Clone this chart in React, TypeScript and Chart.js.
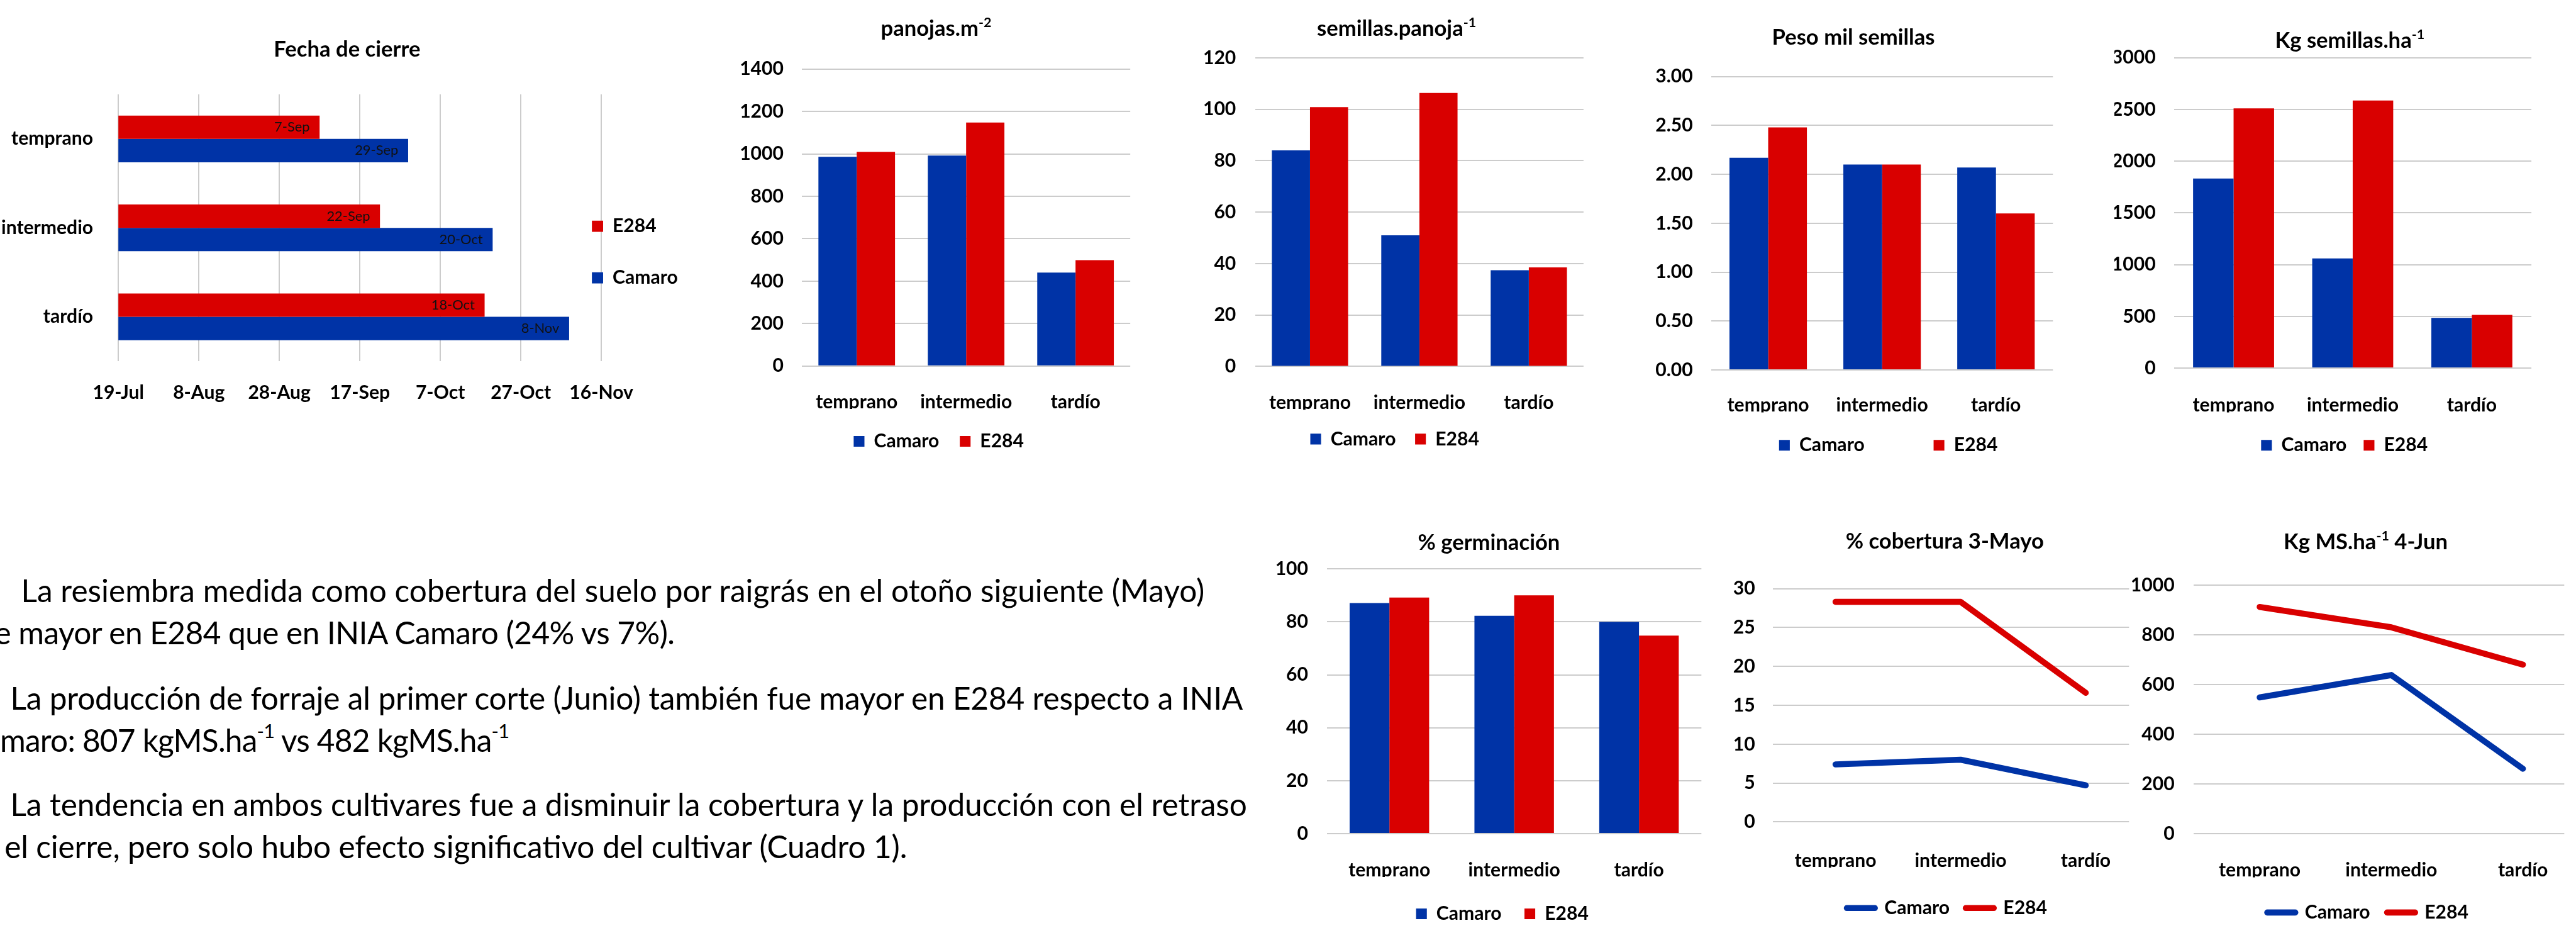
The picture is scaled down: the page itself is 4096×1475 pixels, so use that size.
import React, { useEffect, useMemo, useRef } from 'react';
import { Chart, registerables } from 'chart.js';

Chart.register(...registerables);

const S = 0.713;
const FAMILY = 'Lato, "Open Sans", "DejaVu Sans", sans-serif';
const BLUE = '#0033A6';
const RED = '#D90000';
const GRID = '#cccccc';
const INK = '#000000';

// ---------------- data ----------------
const categories = ['temprano', 'intermedio', 'tardío'];

const cierreE284 = ['2018-09-07', '2018-09-22', '2018-10-18'];
const cierreCamaro = ['2018-09-29', '2018-10-20', '2018-11-08'];
const cierreAxisStart = '2018-07-19';
const cierreAxisEnd = '2018-11-16';
const cierreTickStepDays = 20;

const panojasCamaro = [986, 992, 440];
const panojasE284 = [1009, 1148, 499];

const semillasPanojaCamaro = [84, 51, 37.4];
const semillasPanojaE284 = [100.8, 106.3, 38.5];

const pesoMilCamaro = [2.17, 2.1, 2.07];
const pesoMilE284 = [2.48, 2.1, 1.6];

const kgSemillasCamaro = [1832, 1060, 485];
const kgSemillasE284 = [2511, 2587, 514];

const germinacionCamaro = [87.1, 82.3, 80.0];
const germinacionE284 = [89.2, 90.0, 74.8];

const coberturaCamaro = [7.4, 8.0, 4.7];
const coberturaE284 = [28.3, 28.3, 16.6];

const kgMSCamaro = [548, 638, 261];
const kgMSE284 = [912, 830, 680];

// text lines (odd parts are superscripts)
const paragraphLines = [
  ['La resiembra medida como cobertura del suelo por raigrás en el otoño siguiente (Mayo)'],
  ['e mayor en E284 que en INIA Camaro (24% vs 7%).'],
  ['La producción de forraje al primer corte (Junio) también fue mayor en E284 respecto a INIA'],
  ['maro: 807 kgMS.ha', '-1', ' vs 482 kgMS.ha', '-1'],
  ['La tendencia en ambos cultivares fue a disminuir la cobertura y la producción con el retraso'],
  ['el cierre, pero solo hubo efecto significativo del cultivar (Cuadro 1).'],
];

// layout of the text lines in reference pixels
const PARA_LAYOUT = [
  { x: 47, base: 1342, end: 2686 },
  { x: -12, base: 1436, end: 1505 },
  { x: 23, base: 1582, end: 2772 },
  { x: 0, base: 1676, end: 1136 },
  { x: 23, base: 1819, end: 2781 },
  { x: 10, base: 1913, end: 2023 },
];

// ---------------- helpers ----------------
const MONTHS = ['Jan', 'Feb', 'Mar', 'Apr', 'May', 'Jun', 'Jul', 'Aug', 'Sep', 'Oct', 'Nov', 'Dec'];
const toDay = (s: string) => Math.round(Date.parse(s + 'T00:00:00Z') / 864e5);
const fmtDay = (d: number) => {
  const dt = new Date(d * 864e5);
  return `${dt.getUTCDate()}-${MONTHS[dt.getUTCMonth()]}`;
};

function fitSize(text: string, weight: string, refWidth: number) {
  const c = document.createElement('canvas').getContext('2d') as CanvasRenderingContext2D;
  c.font = `${weight} 100px ${FAMILY}`;
  return (100 * refWidth * S) / c.measureText(text).width;
}

const decorPlugin = {
  id: 'decor',
  afterLayout(chart: any, _a: any, opts: any) {
    const lg = chart.legend;
    const lp = opts && opts.legend;
    if (!lg || !lp) return;
    const w = lg.right - lg.left;
    const h = lg.bottom - lg.top;
    if (lp.mode === 'h') {
      const nl = lp.cx - w / 2;
      lg.left = nl;
      lg.right = nl + w;
      const nt = lp.cy - lp.pad - lp.f / 2;
      lg.top = nt;
      lg.bottom = nt + h;
    } else {
      const nl = lp.boxLeft - lp.pad;
      lg.left = nl;
      lg.right = nl + w + 250;
      const nt = lp.mid - h / 2;
      lg.top = nt;
      lg.bottom = nt + h;
    }
  },
  afterDraw(chart: any, _a: any, opts: any) {
    const t = opts && opts.title;
    if (!t) return;
    const ctx = chart.ctx;
    ctx.save();
    const main = `bold ${t.f}px ${FAMILY}`;
    const sup = `bold ${t.f * 0.62}px ${FAMILY}`;
    let total = 0;
    for (const p of t.parts) {
      ctx.font = p.sup ? sup : main;
      total += ctx.measureText(p.t).width;
    }
    let x = t.cx - total / 2;
    ctx.fillStyle = INK;
    ctx.textAlign = 'left';
    ctx.textBaseline = 'alphabetic';
    for (const p of t.parts) {
      ctx.font = p.sup ? sup : main;
      ctx.fillText(p.t, x, p.sup ? t.by - t.f * 0.4 : t.by);
      x += ctx.measureText(p.t).width;
    }
    ctx.restore();
  },
};

const dateLabelPlugin = {
  id: 'dateLabels',
  afterDatasetsDraw(chart: any, _a: any, opts: any) {
    const ctx = chart.ctx;
    ctx.save();
    ctx.font = `normal ${opts.font}px ${FAMILY}`;
    ctx.fillStyle = '#111111';
    ctx.textAlign = 'right';
    ctx.textBaseline = 'middle';
    chart.data.datasets.forEach((ds: any, di: number) => {
      chart.getDatasetMeta(di).data.forEach((el: any, i: number) => {
        ctx.fillText(fmtDay(ds.data[i]), el.x - opts.inset, el.y);
      });
    });
    ctx.restore();
  },
};

function frame(geo: any, fonts: any) {
  const ox = geo.box[0] * S;
  const oy = geo.box[1] * S;
  const L = geo.plot[0] * S - ox;
  const T = geo.plot[1] * S - oy;
  const R = geo.plot[2] * S - ox;
  const B = geo.plot[3] * S - oy;
  const f = fonts.label;
  const yPad = (geo.plot[0] - geo.yLabelRight) * S;
  const xCY = geo.xTickCY * S - oy;
  const xPad = xCY - B - f / 2;
  const xAxisH = xPad + f + 4;
  return {
    ox, oy, L, T, R, B, f, yPad, xPad, xAxisH,
    W: Math.round((geo.box[2] - geo.box[0]) * S),
    H0: (geo.box[3] - geo.box[1]) * S,
    labelFont: { family: FAMILY, size: f, weight: 'bold', lineHeight: 1 },
    title: { parts: geo.title.parts, cx: geo.title.cx * S - ox, by: geo.title.by * S - oy, f: fonts.title },
  };
}

function cierreSpec(fonts: any) {
  const geo = {
    box: [0, 30, 1560, 960],
    plot: [264, 211, 1341, 806],
    yLabelRight: 219,
    xTickCY: 876,
    title: { parts: [{ t: 'Fecha de cierre' }], cx: 774, by: 127 },
  };
  const fr = frame(geo, fonts);
  const legendW = 150;
  const p = 115 * S - fr.f;
  const H = Math.ceil(Math.max(fr.H0, fr.B + fr.xAxisH));
  const min = toDay(cierreAxisStart);
  const max = toDay(cierreAxisEnd);
  const cfg = {
    type: 'bar',
    data: {
      labels: categories,
      datasets: [
        { label: 'E284', data: cierreE284.map(toDay), backgroundColor: RED, categoryPercentage: 0.525, barPercentage: 1, borderWidth: 0 },
        { label: 'Camaro', data: cierreCamaro.map(toDay), backgroundColor: BLUE, categoryPercentage: 0.525, barPercentage: 1, borderWidth: 0 },
      ],
    },
    options: {
      indexAxis: 'y',
      responsive: false,
      animation: false,
      devicePixelRatio: 1,
      layout: { padding: { left: 0, top: fr.T, right: fr.W - fr.R - legendW, bottom: H - fr.B - fr.xAxisH } },
      plugins: {
        legend: {
          position: 'right',
          maxWidth: legendW,
          labels: { boxWidth: 25 * S, boxHeight: 25 * S, padding: p, color: INK, font: fr.labelFont },
        },
        title: { display: false },
        tooltip: { enabled: false },
        decor: { title: fr.title, legend: { mode: 'v', boxLeft: 1320 * S - fr.ox, mid: 562.5 * S - fr.oy, pad: p } },
        dateLabels: { font: fonts.data, inset: 22 * S },
      },
      scales: {
        x: {
          type: 'linear',
          min,
          max,
          grid: { color: GRID, lineWidth: 2, drawTicks: false },
          border: { display: false },
          ticks: {
            stepSize: cierreTickStepDays,
            color: INK,
            font: fr.labelFont,
            padding: fr.xPad,
            maxRotation: 0,
            autoSkip: false,
            callback: (v: any) => fmtDay(Number(v)),
          },
          afterFit: (s: any) => { s.height = fr.xAxisH; },
        },
        y: {
          grid: { display: false },
          border: { display: false },
          ticks: { color: INK, font: fr.labelFont, padding: fr.yPad },
          afterFit: (s: any) => { s.width = fr.L; },
        },
      },
    },
    plugins: [decorPlugin, dateLabelPlugin],
  };
  return { cfg, left: fr.ox, top: fr.oy, w: fr.W, h: H };
}

function verticalSpec(kind: string, geo: any, a: number[], b: number[], yMax: number, yStep: number, decimals: number, fonts: any, catPct: number, xMax: number) {
  const fr = frame(geo, fonts);
  const p = geo.legend.gap * S;
  const legendH = fr.f + p + 10;
  const H = Math.ceil(Math.max(fr.H0, fr.B + fr.xAxisH + legendH));
  const padBottom = H - (fr.B + fr.xAxisH + legendH);
  const isLine = kind === 'line';
  const LW = 9.6;
  const mk = (label: string, vals: number[], color: string) =>
    isLine
      ? {
          label,
          data: vals.map((y, i) => ({ x: i, y })),
          borderColor: color,
          backgroundColor: color,
          borderWidth: LW,
          borderCapStyle: 'round',
          borderJoinStyle: 'round',
          pointRadius: 0,
          pointHoverRadius: 0,
          pointBorderWidth: LW,
          pointStyle: 'line',
          tension: 0,
          fill: false,
        }
      : { label, data: vals, backgroundColor: color, categoryPercentage: catPct, barPercentage: 1, borderWidth: 0 };
  const tickBase = { color: INK, font: fr.labelFont, padding: fr.xPad, maxRotation: 0, autoSkip: false };
  const xScale = isLine
    ? {
        type: 'linear',
        min: -0.5,
        max: xMax,
        afterBuildTicks: (s: any) => { s.ticks = [0, 1, 2].map((v) => ({ value: v })); },
        grid: { display: false },
        border: { display: false },
        ticks: { ...tickBase, callback: (v: any) => categories[Number(v)] ?? '' },
        afterFit: (s: any) => { s.height = fr.xAxisH; },
      }
    : {
        type: 'category',
        grid: { display: false },
        border: { display: false },
        ticks: tickBase,
        afterFit: (s: any) => { s.height = fr.xAxisH; },
      };
  const legendLabels = isLine
    ? {
        usePointStyle: true,
        pointStyleWidth: 76 * S - LW,
        padding: p,
        color: INK,
        font: fr.labelFont,
        generateLabels: (chart: any) =>
          (Chart.defaults as any).plugins.legend.labels.generateLabels(chart).map((it: any) => ({
            ...it,
            pointStyle: 'line',
            lineCap: 'round',
            lineWidth: LW,
            strokeStyle: chart.data.datasets[it.datasetIndex].borderColor,
          })),
      }
    : { boxWidth: 24 * S, boxHeight: 24 * S, padding: p, color: INK, font: fr.labelFont };
  const cfg = {
    type: isLine ? 'line' : 'bar',
    data: {
      labels: isLine ? undefined : categories,
      datasets: [mk('Camaro', a, BLUE), mk('E284', b, RED)],
    },
    options: {
      responsive: false,
      animation: false,
      devicePixelRatio: 1,
      layout: { padding: { left: 0, top: fr.T, right: fr.W - fr.R, bottom: padBottom } },
      plugins: {
        legend: { position: 'bottom', labels: legendLabels },
        title: { display: false },
        tooltip: { enabled: false },
        decor: {
          title: fr.title,
          legend: { mode: 'h', cx: geo.legend.cx * S - fr.ox, cy: geo.legend.cy * S - fr.oy, pad: p, f: fr.f },
        },
      },
      scales: {
        x: xScale,
        y: {
          min: 0,
          max: yMax,
          grid: { color: GRID, lineWidth: 2, drawTicks: false },
          border: { display: false },
          ticks: {
            stepSize: yStep,
            color: INK,
            font: fr.labelFont,
            padding: fr.yPad,
            callback: (v: any) => Number(v).toFixed(decimals),
          },
          afterFit: (s: any) => { s.width = fr.L; },
        },
      },
    },
    plugins: [decorPlugin],
  };
  return { cfg, left: fr.ox, top: fr.oy, w: fr.W, h: H };
}

function ChartCanvas({ spec }: { spec: any }) {
  const ref = useRef<HTMLCanvasElement>(null);
  useEffect(() => {
    const chart = new Chart(ref.current as HTMLCanvasElement, spec.cfg);
    return () => chart.destroy();
  }, [spec]);
  return (
    <canvas
      ref={ref}
      width={spec.w}
      height={spec.h}
      style={{ position: 'absolute', left: spec.left, top: spec.top, width: spec.w, height: spec.h }}
    />
  );
}

function Paragraph({ size }: { size: number }) {
  return (
    <svg width={2100} height={1475} style={{ position: 'absolute', left: 0, top: 0 }}>
      {paragraphLines.map((parts, i) => {
        const lay = PARA_LAYOUT[i];
        return (
          <text
            key={i}
            x={lay.x * S}
            y={lay.base * S}
            fontFamily={FAMILY}
            fontSize={size}
            fill={INK}
            textLength={(lay.end - lay.x) * S}
            lengthAdjust="spacing"
          >
            {parts.map((t, j) =>
              j % 2 === 1 ? (
                <tspan key={j} fontSize={size * 0.62} dy={-size * 0.45}>{t}</tspan>
              ) : (
                <tspan key={j} dy={j > 0 ? size * 0.45 : 0}>{t}</tspan>
              )
            )}
          </text>
        );
      })}
    </svg>
  );
}

export default function App() {
  const fonts = useMemo(
    () => ({
      label: fitSize('intermedio', 'bold', 205),
      title: fitSize('Fecha de cierre', 'bold', 327),
      data: fitSize('29-Sep', 'normal', 97),
      para: fitSize(paragraphLines[0][0], 'normal', 2639),
    }),
    []
  );

  const specs = useMemo(() => {
    const list: any[] = [];
    list.push(cierreSpec(fonts));
    list.push(
      verticalSpec('bar', {
        box: [1640, 10, 2545, 1040], plot: [1789, 154, 2521, 816], yLabelRight: 1748, xTickCY: 885,
        title: { parts: [{ t: 'panojas.m' }, { t: '-2', sup: true }], cx: 2088, by: 80 },
        legend: { cx: 2094, cy: 984, gap: 46 },
      }, panojasCamaro, panojasE284, 1400, 200, 0, fonts, 0.7, 0)
    );
    list.push(
      verticalSpec('bar', {
        box: [2670, 10, 3555, 1040], plot: [2799, 129, 3531, 817], yLabelRight: 2756, xTickCY: 887,
        title: { parts: [{ t: 'semillas.panoja' }, { t: '-1', sup: true }], cx: 3114, by: 80 },
        legend: { cx: 3110, cy: 979, gap: 43 },
      }, semillasPanojaCamaro, semillasPanojaE284, 120, 20, 0, fonts, 0.697, 0)
    );
    list.push(
      verticalSpec('bar', {
        box: [3680, 20, 4600, 1040], plot: [3816, 171, 4578, 825], yLabelRight: 3775, xTickCY: 893,
        title: { parts: [{ t: 'Peso mil semillas' }], cx: 4133, by: 100 },
        legend: { cx: 4211, cy: 993, gap: 154 },
      }, pesoMilCamaro, pesoMilE284, 3, 0.5, 2, fonts, 0.68, 0)
    );
    list.push(
      verticalSpec('bar', {
        box: [4715, 20, 5744, 1040], plot: [4848, 129, 5645, 821], yLabelRight: 4807, xTickCY: 893,
        title: { parts: [{ t: 'Kg semillas.ha' }, { t: '-1', sup: true }], cx: 5240, by: 107 },
        legend: { cx: 5228, cy: 993, gap: 38 },
      }, kgSemillasCamaro, kgSemillasE284, 3000, 500, 0, fonts, 0.68, 0)
    );
    list.push(
      verticalSpec('bar', {
        box: [2830, 1140, 3830, 2069], plot: [2959, 1268, 3794, 1858], yLabelRight: 2917, xTickCY: 1928,
        title: { parts: [{ t: '% germinación' }], cx: 3320, by: 1226 },
        legend: { cx: 3350, cy: 2037, gap: 51 },
      }, germinacionCamaro, germinacionE284, 100, 20, 0, fonts, 0.637, 0)
    );
    list.push(
      verticalSpec('line', {
        box: [3850, 1140, 4800, 2069], plot: [3954, 1312, 4748, 1832], yLabelRight: 3914, xTickCY: 1907,
        title: { parts: [{ t: '% cobertura 3-Mayo' }], cx: 4337, by: 1223 },
        legend: { cx: 4342, cy: 2024, gap: 36 },
      }, coberturaCamaro, coberturaE284, 30, 5, 0, fonts, 0, 2.346)
    );
    list.push(
      verticalSpec('line', {
        box: [4740, 1140, 5744, 2069], plot: [4892, 1304, 5718, 1858], yLabelRight: 4849, xTickCY: 1929,
        title: { parts: [{ t: 'Kg MS.ha' }, { t: '-1', sup: true }, { t: ' 4-Jun' }], cx: 5275, by: 1224 },
        legend: { cx: 5280, cy: 2034, gap: 38 },
      }, kgMSCamaro, kgMSE284, 1000, 200, 0, fonts, 0, 2.314)
    );
    return list;
  }, [fonts]);

  return (
    <div style={{ position: 'absolute', left: 0, top: 0, width: 4096, height: 1475, overflow: 'hidden', background: '#ffffff' }}>
      <Paragraph size={fonts.para} />
      {specs.map((s, i) => (
        <ChartCanvas key={i} spec={s} />
      ))}
    </div>
  );
}
